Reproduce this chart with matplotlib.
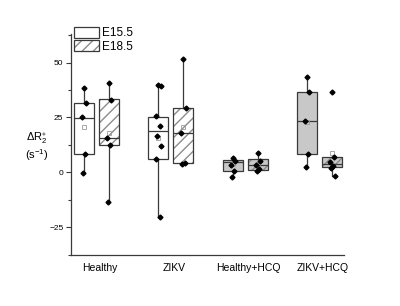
import matplotlib
matplotlib.use("Agg")
import matplotlib.pyplot as plt
from matplotlib.patches import Patch, PathPatch
from matplotlib.legend_handler import HandlerTuple
from matplotlib.ticker import MultipleLocator

plt.rcParams['font.family'] = ['Liberation Sans', 'DejaVu Sans']
plt.rcParams['mathtext.fontset'] = 'custom'
plt.rcParams['mathtext.rm'] = 'Liberation Sans'
plt.rcParams['mathtext.it'] = 'Liberation Sans:italic'

groups = ['Healthy', 'ZIKV', 'Healthy+HCQ', 'ZIKV+HCQ']
stages = ['E15.5', 'E18.5']

# box statistics, [E15.5, E18.5] per group
whislo = [[-0.3, -13.3], [-20.3, 4.2], [-2.3, 0.6], [2.4, -1.5]]
q1 = [[8.5, 12.4], [6.3, 4.3], [0.6, 1.2], [8.3, 2.4]]
med = [[24.9, 15.6], [18.8, 17.7], [4.5, 3.5], [23.6, 3.9]]
q3 = [[31.8, 33.2], [25.3, 29.1], [5.6, 6.2], [36.6, 6.8]]
whishi = [[38.4, 40.8], [39.4, 51.5], [6.6, 8.6], [43.2, 6.8]]
means = [[20.7, 17.8], [15.8, 20.8], [3.8, 3.6], [22.8, 8.6]]

points = [
    [[38.4, 31.8, 25.1, 8.5, -0.3], [40.8, 33.0, 15.5, 12.4, -13.3]],
    [[39.6, 39.2, 25.6, 20.9, 16.5, 11.8, 6.3, -20.3], [51.5, 29.1, 17.7, 4.3, 4.0]],
    [[6.6, 5.0, 3.3, 0.6, -2.3], [8.6, 5.0, 3.3, 1.5, 0.6]],
    [[43.2, 36.6, 23.6, 8.3, 2.4], [36.6, 6.8, 4.8, 2.9, 2.2, -1.5]],
]

edge = '#3a3a3a'
hatch_col = '#8c8c8c'
grey_fill = '#c8c8c8'
jitter = [0.0, 0.03, -0.025, 0.02, -0.015, 0.04, -0.035, 0.025]

fig = plt.figure(figsize=(4.0, 3.06), dpi=100)
ax = fig.add_axes([0.1775, 0.1667, 0.6825, 0.7223])

offset = 0.168
width = 0.27
for g in range(len(groups)):
    for s in range(2):
        x = g + 1 + (offset if s else -offset)
        st = dict(whislo=whislo[g][s], q1=q1[g][s], med=med[g][s], q3=q3[g][s],
                  whishi=whishi[g][s], mean=means[g][s], fliers=[])
        fill = grey_fill if g >= 2 else 'white'
        art = ax.bxp([st], positions=[x], widths=width, patch_artist=True,
                     showmeans=True, showfliers=False, showcaps=False,
                     boxprops=dict(facecolor=fill, edgecolor=edge, linewidth=0.9),
                     whiskerprops=dict(color=edge, linewidth=0.9),
                     medianprops=dict(color=edge, linewidth=0.9),
                     meanprops=dict(marker='s', markersize=3, markerfacecolor='none',
                                    markeredgecolor='#9a9a9a', markeredgewidth=0.6))
        box = art['boxes'][0]
        if s == 1:
            box.set_edgecolor(hatch_col)
            box.set_hatch('///')
            box.set_linewidth(0.4)
            outline = PathPatch(box.get_path(), facecolor='none', edgecolor=edge,
                                linewidth=0.9, zorder=box.get_zorder() + 0.1)
            ax.add_patch(outline)
        vals = points[g][s]
        xs = [x + jitter[i % len(jitter)] for i in range(len(vals))]
        ax.plot(xs, vals, 'D', color='black', markersize=2.5, zorder=5)

ax.set_xlim(0.657, 4.33)
ax.set_ylim(-37.6, 63)
ax.set_xticks([i + 1.04 for i in range(len(groups))])
ax.set_xticklabels(groups, fontsize=7.5)
ax.tick_params(axis='x', length=0, pad=6)
ax.yaxis.set_major_locator(MultipleLocator(25))
ax.yaxis.set_minor_locator(MultipleLocator(12.5))
ax.tick_params(axis='y', which='major', length=3.5, width=0.8, labelsize=6, pad=2, color=edge)
ax.tick_params(axis='y', which='minor', length=2, width=0.8, color=edge)
for side in ['top', 'right']:
    ax.spines[side].set_visible(False)
for side in ['left', 'bottom']:
    ax.spines[side].set_color(edge)
    ax.spines[side].set_linewidth(0.9)

ax.set_ylabel(r'$\Delta\mathrm{R}_2^{\ast}$' + '\n' + r'(s$^{-1}$)', rotation=0,
              fontsize=8, ha='center', va='center', linespacing=1.15)
ax.yaxis.set_label_coords(-0.1245, 0.49)

h1 = Patch(facecolor='white', edgecolor=edge, linewidth=0.9)
h2 = (Patch(facecolor='white', edgecolor=hatch_col, hatch='///', linewidth=0.4),
      Patch(facecolor='none', edgecolor=edge, linewidth=0.9))
ax.legend([h1, h2], stages, handler_map={tuple: HandlerTuple(ndivide=1)},
          loc='upper left', bbox_to_anchor=(0.011, 1.033), frameon=False,
          fontsize=8.5, handlelength=2.1, handleheight=1.1, labelspacing=0.05,
          handletextpad=0.3, borderpad=0, borderaxespad=0)

fig.savefig('out.png', dpi=100)
